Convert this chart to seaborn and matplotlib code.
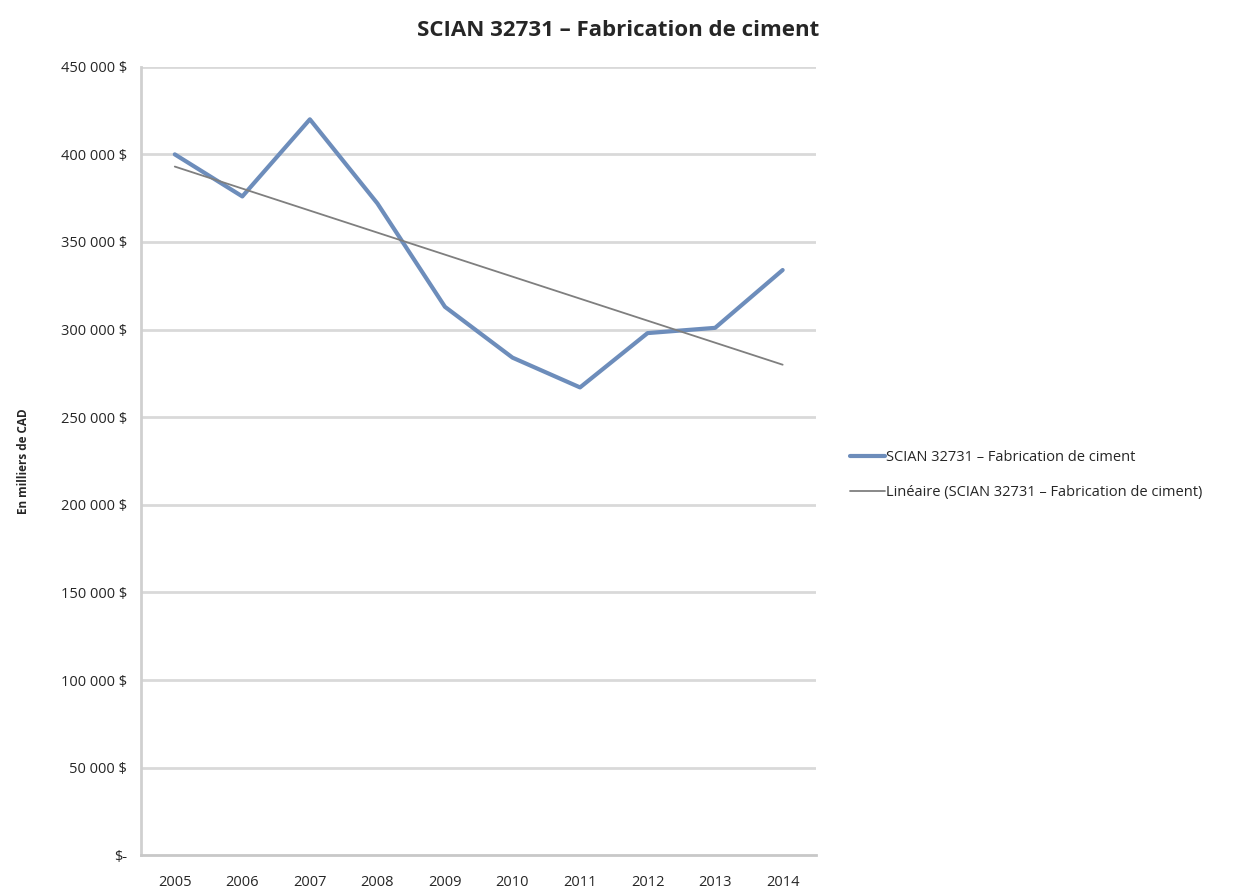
import numpy as np
import pandas as pd
import seaborn as sns
import matplotlib.pyplot as plt
from matplotlib.ticker import FuncFormatter

annees = [2005, 2006, 2007, 2008, 2009, 2010, 2011, 2012, 2013, 2014]
valeurs = [400000, 376000, 420000, 372000, 313000, 284000, 267000, 298000, 301000, 334000]
serie = 'SCIAN 32731 – Fabrication de ciment'
tendance = 'Linéaire (SCIAN 32731 – Fabrication de ciment)'

df = pd.DataFrame({'pos': np.arange(len(annees)), 'annee': annees, 'valeur': valeurs})

sns.set_style('white')
plt.rcParams['font.family'] = ['Open Sans', 'DejaVu Sans']

fig = plt.figure(figsize=(12.37, 8.9), dpi=100)
ax = fig.add_axes([0.114, 0.039, 0.546, 0.886])

for v in range(50000, 450001, 50000):
    ax.axhline(v, color='#d9d9d9', lw=2, zorder=0)

sns.lineplot(data=df, x='pos', y='valeur', ax=ax, color='#6d8dbb', lw=3, legend=False)
ligne_serie = ax.get_lines()[-1]
sns.regplot(data=df, x='pos', y='valeur', ax=ax, scatter=False, ci=None,
            color='#7f7f7f', line_kws={'lw': 1.3})
ligne_tend = ax.get_lines()[-1]

ax.set_xlim(-0.5, len(annees) - 0.5)
ax.set_ylim(0, 450000)
ax.set_xticks(df['pos'])
ax.set_xticklabels(annees, fontsize=10.5)
ax.set_yticks(range(0, 450001, 50000))
ax.yaxis.set_major_formatter(FuncFormatter(
    lambda v, p: '$-' if v == 0 else f'{int(v):,} $'.replace(',', ' ')))
ax.tick_params(axis='y', labelsize=10.5, length=0, pad=10)
ax.tick_params(axis='x', length=0, pad=14)
ax.set_xlabel('')
ax.set_ylabel('En milliers de CAD', fontsize=8.5, fontweight='bold', labelpad=22)

for s in ['top', 'right']:
    ax.spines[s].set_visible(False)
ax.spines['left'].set_color('#d0d0d0')
ax.spines['left'].set_linewidth(2)
ax.spines['bottom'].set_color('#c8c8c8')
ax.spines['bottom'].set_linewidth(2)

fig.suptitle(serie, fontsize=16, fontweight='bold', x=0.5, y=0.978)

ax.legend([ligne_serie, ligne_tend], [serie, tendance],
          loc='center left', bbox_to_anchor=(1.03, 0.482), frameon=False,
          fontsize=10.5, handlelength=2.4, handletextpad=0.05, labelspacing=1.35)

fig.savefig('out.png', dpi=100)
